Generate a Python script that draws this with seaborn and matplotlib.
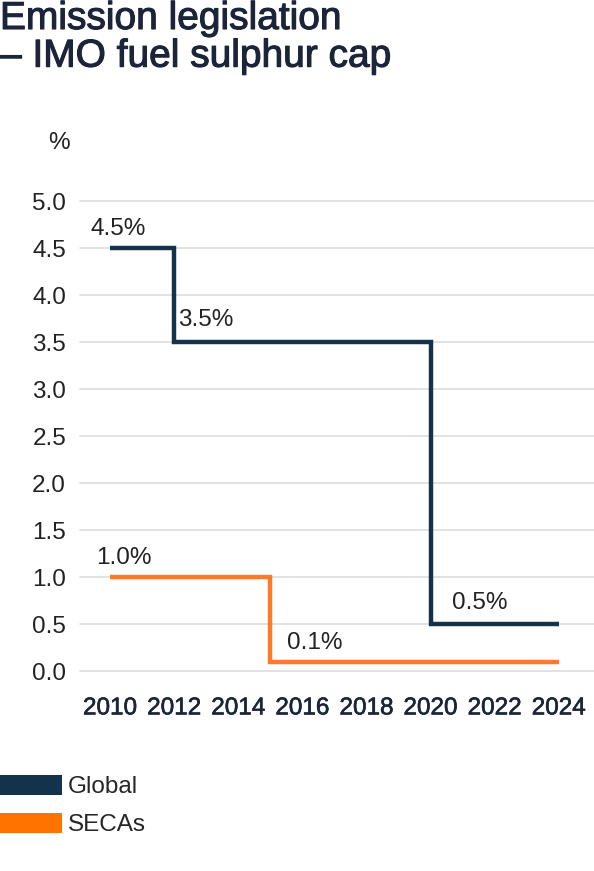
import numpy as np
import pandas as pd
import matplotlib
matplotlib.use("Agg")
import matplotlib.pyplot as plt
import matplotlib.patheffects as pe
from matplotlib.patches import Patch
import seaborn as sns

# sulphur cap steps (year the limit starts, limit in %)
global_years = [2010, 2012, 2020, 2024]
global_caps = [4.5, 3.5, 0.5, 0.5]
seca_years = [2010, 2015, 2024]
seca_caps = [1.0, 0.1, 0.1]

series_names = ["Global", "SECAs"]
colors = {"Global": "#13334c", "SECAs": "#ff7a28"}
legend_colors = {"Global": "#13334c", "SECAs": "#ff7300"}

# labels shown at each step: (series, step index)
step_labels = [("Global", 0), ("Global", 1), ("Global", 2), ("SECAs", 0), ("SECAs", 1)]
label_offsets = {("Global", 0): (-20, 19), ("Global", 1): (4, 22), ("Global", 2): (21, 21),
                 ("SECAs", 0): (-14, 19), ("SECAs", 1): (17, 19)}

xticks = list(range(2010, 2025, 2))
yticks = [0.0, 0.5, 1.0, 1.5, 2.0, 2.5, 3.0, 3.5, 4.0, 4.5, 5.0]

df = pd.concat([
    pd.DataFrame({"year": global_years, "cap": global_caps, "region": "Global"}),
    pd.DataFrame({"year": seca_years, "cap": seca_caps, "region": "SECAs"}),
])

sns.set_theme(style="white")
plt.rcParams["font.family"] = ["Liberation Sans", "DejaVu Sans"]

fig = plt.figure(figsize=(5.94, 8.71), dpi=100)
ax = fig.add_axes([80 / 594, 1 - 671 / 871, 1 - 80 / 594, 470 / 871])

for name in series_names:
    sub = df[df["region"] == name]
    sns.lineplot(data=sub, x="year", y="cap", ax=ax, color=colors[name],
                 linewidth=3.2, drawstyle="steps-post", legend=False,
                 solid_capstyle="butt", solid_joinstyle="miter", zorder=3)

for name, i in step_labels:
    sub = df[df["region"] == name].reset_index(drop=True)
    x, y = sub.loc[i, "year"], sub.loc[i, "cap"]
    ax.annotate(f"{y:.1f}%", (x, y), xytext=label_offsets[(name, i)],
                textcoords="offset pixels", ha="left", va="center",
                fontsize=17.5, color="#222222")

ax.set_xlim(2009.06, 2025.1)
ax.set_ylim(0, 5.0)
ax.set_xticks(xticks)
ax.set_yticks(yticks)
ax.set_yticklabels([f"{v:.1f}" for v in yticks])
ax.tick_params(axis="x", length=0, pad=19, labelsize=17.5, labelcolor="#1b2438")
ax.tick_params(axis="y", length=0, pad=10, labelsize=17.5, labelcolor="#222222")
medium = [pe.withStroke(linewidth=0.45, foreground="#1b2438")]
for lbl in ax.get_xticklabels():
    lbl.set_path_effects(medium)
ax.set_xlabel("")
ax.set_ylabel("")
ax.grid(axis="y", color="#dddddd", linewidth=1.2)
ax.grid(axis="x", visible=False)
for gl in ax.get_ygridlines():
    gl.set_clip_on(False)
sns.despine(ax=ax, left=True, bottom=True)

fig.text(0, 1 - 1 / 871, "Emission legislation\n\u2013 IMO fuel sulphur cap",
         ha="left", va="top", fontsize=28, color="#1b2438", linespacing=1.06,
         path_effects=[pe.withStroke(linewidth=0.8, foreground="#1b2438")])
fig.text(70 / 594, 1 - 143 / 871, "%", ha="right", va="center",
         fontsize=17.5, color="#222222")

handles = [Patch(facecolor=legend_colors[n], edgecolor="none", label=n) for n in series_names]
fig.legend(handles=handles, loc="upper left", bbox_to_anchor=(0, 1 - 775 / 871),
           frameon=False, fontsize=17.5, handlelength=2.55, handleheight=0.86,
           handletextpad=0.25, labelspacing=0.62, borderpad=0, borderaxespad=0)

fig.savefig("out.png", dpi=100)
